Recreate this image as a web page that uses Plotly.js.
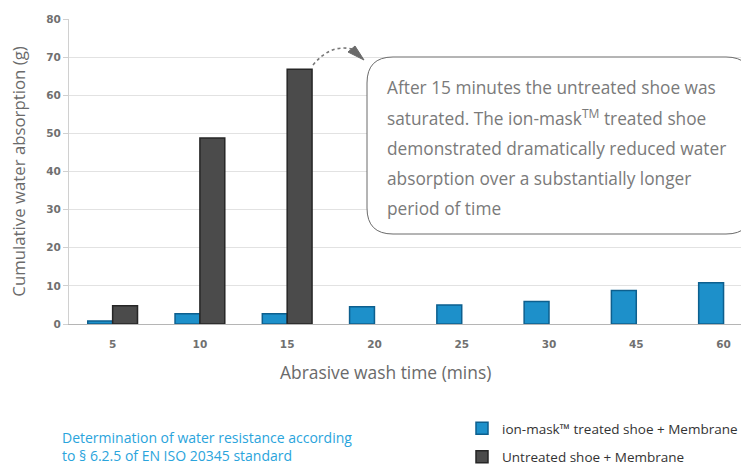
<!DOCTYPE html>
<html>
<head>
<meta charset="utf-8">
<script src="https://cdn.plot.ly/plotly-3.0.1.min.js"></script>
<style>html,body{margin:0;padding:0;background:#fff;}#chart{width:741px;height:465px;}</style>
</head>
<body>
<div id="chart"></div>
<script>
const categories = ['5', '10', '15', '20', '25', '30', '45', '60'];
const treatedValues = [0.8, 2.7, 2.7, 4.5, 5.0, 5.9, 8.8, 10.8];
const untreatedValues = [4.8, 48.8, 66.8, null, null, null, null, null];
const seriesNames = ['ion-mask\u2122 treated shoe + Membrane', 'Untreated shoe + Membrane'];
const yTicks = [0, 10, 20, 30, 40, 50, 60, 70, 80];
const xTitle = 'Abrasive wash time (mins)';
const yTitle = 'Cumulative water absorption (g)';
const noteLines = [
  'After 15 minutes the untreated shoe was',
  'saturated. The ion-mask<sup>TM</sup> treated shoe',
  'demonstrated dramatically reduced water',
  'absorption over a substantially longer',
  'period of time'
];
const footLines = ['Determination of water resistance according', 'to \u00a7 6.2.5 of EN ISO 20345 standard'];

// plot geometry (pixels) for paper conversion
const L = 69, R = 741, T = 19, B = 324;
const px = x => (x - L) / (R - L);
const py = y => (B - y) / (B - T);

function roundRect(x0, y0, x1, y1, r) {
  const rx = r / (R - L), ry = r / (B - T);
  const a = px(x0), b = px(x1), top = py(y0), bot = py(y1);
  return `M${a + rx},${top} L${b - rx},${top} Q${b},${top} ${b},${top - ry} L${b},${bot + ry} Q${b},${bot} ${b - rx},${bot} L${a + rx},${bot} Q${a},${bot} ${a},${bot + ry} L${a},${top - ry} Q${a},${top} ${a + rx},${top} Z`;
}

const FONT = '"Open Sans", Lato, sans-serif';

const traces = [
  {
    type: 'bar', name: seriesNames[0], x: categories, y: treatedValues,
    marker: {color: '#1d90ca', line: {color: '#0d5f8e', width: 1.5}},
    legendgroup: 'a'
  },
  {
    type: 'bar', name: seriesNames[1], x: categories, y: untreatedValues,
    marker: {color: '#4b4b4b', line: {color: '#262626', width: 1.5}},
    legendgroup: 'b'
  }
];

const shapes = [
  {type: 'path', xref: 'paper', yref: 'paper', path: roundRect(367, 57, 752, 234, 26),
   fillcolor: '#ffffff', line: {color: '#6a6a6a', width: 1}},
  {type: 'path', xref: 'paper', yref: 'paper',
   path: `M${px(313)},${py(65)} Q${px(330)},${py(44)} ${px(352)},${py(49)}`,
   line: {color: '#777', width: 1.6, dash: 'dot'}},
  {type: 'path', xref: 'paper', yref: 'paper',
   path: `M${px(348)},${py(52)} L${px(355)},${py(46)} L${px(364)},${py(60)} Z`,
   fillcolor: '#6a6a6a', line: {color: '#6a6a6a', width: 1}}
];

const annotations = [];
const lineY = [88, 118, 148, 178, 208];
noteLines.forEach((t, i) => annotations.push({
  xref: 'paper', yref: 'paper', x: px(385), y: py(lineY[i]), xanchor: 'left', yanchor: 'middle',
  text: t, showarrow: false, align: 'left',
  font: {family: FONT, size: 17.3, color: '#7a7a7a'}
}));
footLines.forEach((t, i) => annotations.push({
  xref: 'paper', yref: 'paper', x: px(60), y: py([437, 455][i]), xanchor: 'left', yanchor: 'middle',
  text: t, showarrow: false, align: 'left',
  font: {family: FONT, size: 14, color: '#2aa4dc'}
}));
annotations.push({
  xref: 'paper', yref: 'paper', x: px(385), y: py(372), xanchor: 'center', yanchor: 'middle',
  text: xTitle, showarrow: false,
  font: {family: FONT, size: 17.4, color: '#6a6a6a'}
});

const layout = {
  width: 741, height: 465,
  margin: {l: L, r: 741 - R, t: T, b: 465 - B, autoexpand: false},
  paper_bgcolor: '#ffffff', plot_bgcolor: '#ffffff',
  barmode: 'group', bargap: 0.43, bargroupgap: 0,
  showlegend: true,
  legend: {
    x: px(462), y: py(413), xanchor: 'left', yanchor: 'top',
    font: {family: FONT, size: 13.5, color: '#333333'},
    traceorder: 'grouped', tracegroupgap: 8, bgcolor: 'rgba(0,0,0,0)'
  },
  xaxis: {
    type: 'category', range: [-0.5, 7.2],
    showgrid: false, showline: true, linecolor: '#b5b5b5', linewidth: 1,
    ticks: '', ticklabelstandoff: 10,
    tickfont: {family: 'DejaVu Sans, sans-serif', size: 10.5, color: '#707070', weight: 'bold'},
    fixedrange: true
  },
  yaxis: {
    range: [0, 80], tickvals: yTicks, ticktext: yTicks.map(String),
    showgrid: true, gridcolor: '#e2e2e2', gridwidth: 1,
    showline: true, linecolor: '#d0d0d0', zeroline: false,
    ticks: 'outside', ticklen: 5, tickcolor: '#d0d0d0',
    tickfont: {family: 'DejaVu Sans, sans-serif', size: 10.5, color: '#707070', weight: 'bold'},
    title: {text: yTitle, standoff: 16,
      font: {family: FONT, size: 16.8, color: '#6a6a6a'}},
    fixedrange: true
  },
  shapes: shapes,
  annotations: annotations
};

Plotly.newPlot('chart', traces, layout, {displayModeBar: false, staticPlot: true});
</script>
</body>
</html>
